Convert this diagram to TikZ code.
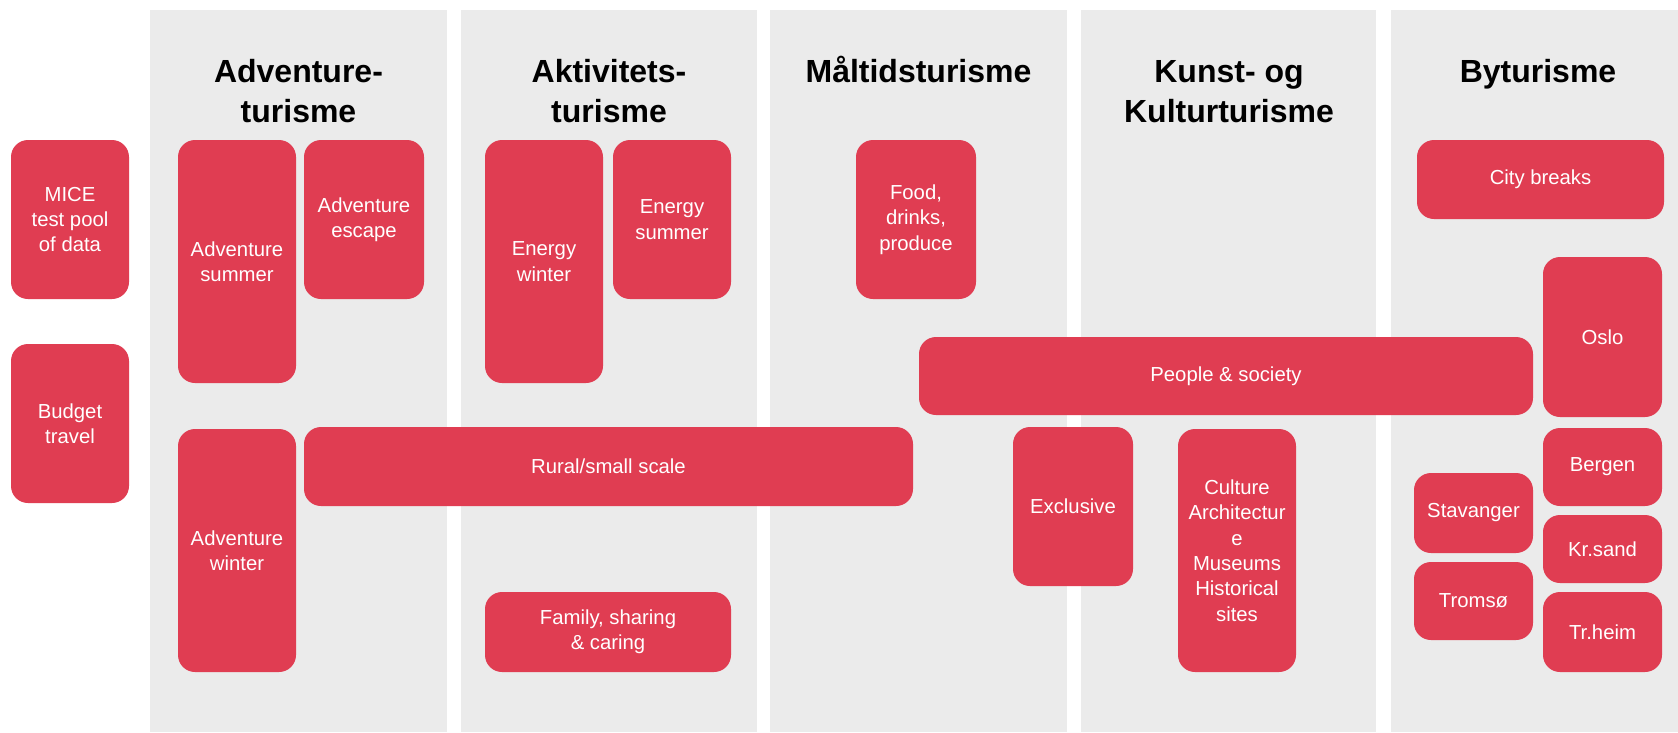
\documentclass[tikz,border=0pt]{standalone}
\usepackage{fontspec}
\setmainfont{Liberation Sans}
\definecolor{boxred}{HTML}{E03D52}
\definecolor{colgray}{HTML}{EBEBEB}
\tikzset{
  redbox/.style={fill=boxred, draw=none, rounded corners=17pt, inner sep=0pt,
    text=white, align=center, font=\fontsize{20.3}{25.4}\selectfont},
  coltitle/.style={anchor=base, inner sep=0pt, text=black,
    font=\fontsize{32}{40}\selectfont\bfseries},
  colband/.style={fill=colgray, draw=none}
}
\newcommand{\rbx}[6]{%
  \pgfmathsetmacro\bw{#4-#2}\pgfmathsetmacro\bh{#5-#3}%
  \pgfmathsetmacro\bx{(#2+#4)/2}\pgfmathsetmacro\by{(#3+#5)/2}%
  \node[redbox, minimum width=\bw pt, minimum height=\bh pt] (#1) at (\bx,\by) {#6};}
\begin{document}
\begin{tikzpicture}[x=1pt,y=-1pt]
\useasboundingbox (0,0) rectangle (1678,732);
\fill[white] (0,0) rectangle (1678,732);
% columns
\fill[colband] (150,10) rectangle (447,732);
\fill[colband] (461,10) rectangle (757,732);
\fill[colband] (770,10) rectangle (1067,732);
\fill[colband] (1081,10) rectangle (1376,732);
\fill[colband] (1391,10) rectangle (1678,732);
% titles
\node[coltitle] (t1a) at (298.5,82) {Adventure-};
\node[coltitle] (t1b) at (298.5,122) {turisme};
\node[coltitle] (t2a) at (609,82) {Aktivitets-};
\node[coltitle] (t2b) at (609,122) {turisme};
\node[coltitle] (t3a) at (918.5,82) {Måltidsturisme};
\node[coltitle] (t4a) at (1229,82) {Kunst- og};
\node[coltitle] (t4b) at (1229,122) {Kulturturisme};
\node[coltitle] (t5a) at (1538,82) {Byturisme};
% boxes
\rbx{mice}{11}{140}{129}{299}{MICE\\test pool\\of data}
\rbx{budget}{11}{344}{129}{503}{Budget\\travel}
\rbx{advsum}{178}{140}{296}{383}{Adventure\\summer}
\rbx{advesc}{304}{140}{424}{299}{Adventure\\escape}
\rbx{advwin}{178}{429}{296}{672}{Adventure\\winter}
\rbx{rural}{304}{427}{913}{506}{Rural/small scale}
\rbx{enwin}{485}{140}{603}{383}{Energy\\winter}
\rbx{ensum}{613}{140}{731}{299}{Energy\\summer}
\rbx{family}{485}{592}{731}{672}{Family, sharing\\\& caring}
\rbx{food}{856}{140}{976}{299}{Food,\\drinks,\\produce}
\rbx{people}{919}{337}{1533}{415}{People \& society}
\rbx{excl}{1013}{427}{1133}{586}{Exclusive}
\rbx{culture}{1178}{429}{1296}{672}{Culture\\Architectur\\e\\Museums\\Historical\\sites}
\rbx{city}{1417}{140}{1664}{219}{City breaks}
\rbx{oslo}{1543}{257}{1662}{417}{Oslo}
\rbx{bergen}{1543}{428}{1662}{506}{Bergen}
\rbx{krsand}{1543}{515}{1662}{583}{Kr.sand}
\rbx{trheim}{1543}{592}{1662}{672}{Tr.heim}
\rbx{stav}{1414}{473}{1533}{553}{Stavanger}
\rbx{tromso}{1414}{562}{1533}{640}{Tromsø}
\end{tikzpicture}
\end{document}
